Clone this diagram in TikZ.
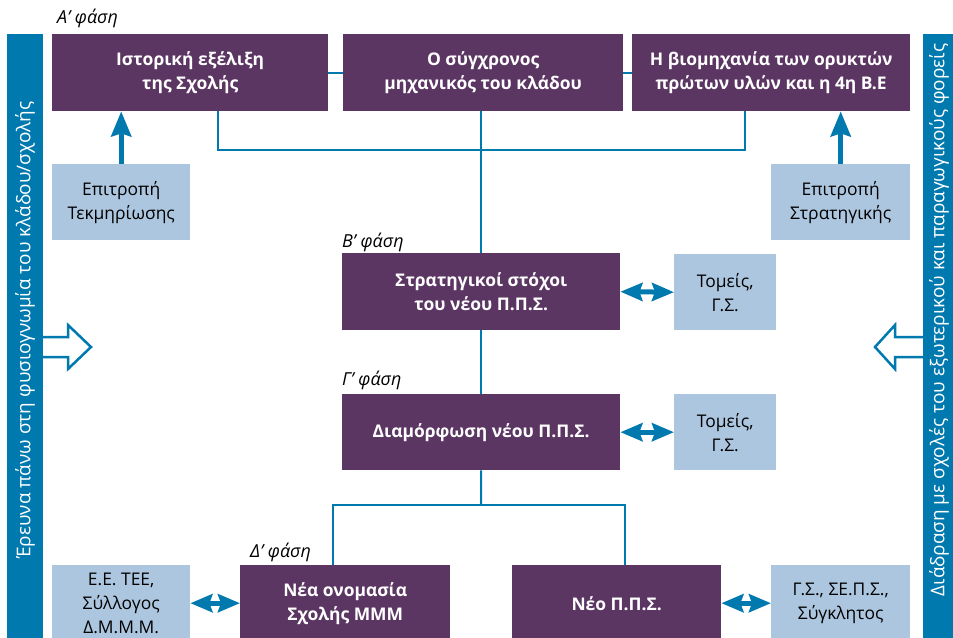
\documentclass[tikz,border=0pt]{standalone}
\usepackage{fontspec}
\setmainfont{Open Sans}
\usetikzlibrary{arrows.meta,calc}
\definecolor{purp}{HTML}{5C3663}
\definecolor{lblue}{HTML}{ADC6DF}
\definecolor{dblue}{HTML}{0079AE}
\begin{document}
\begin{tikzpicture}[x=1bp,y=-1bp,
  pbox/.style={fill=purp,text=white,font=\bfseries\fontsize{17.5}{24}\selectfont,align=center,inner sep=0pt,anchor=north west},
  lbox/.style={fill=lblue,text=black,font=\fontsize{17.5}{24}\selectfont,align=center,inner sep=0pt,anchor=north west},
  phase/.style={font=\itshape\fontsize{18}{20}\selectfont,anchor=base west,inner sep=0pt},
  bartext/.style={text=white,font=\fontsize{19}{22}\selectfont,rotate=90,inner sep=0pt},
  conn/.style={draw=dblue,line width=2bp},
  uparrow/.style={draw=dblue,line width=5bp,-{Stealth[length=25bp,width=20bp,inset=3bp]}},
  dbl/.style={draw=dblue,line width=5bp,{Stealth[length=22bp,width=18bp,inset=3bp]}-{Stealth[length=22bp,width=18bp,inset=3bp]}},
  hollow/.style={draw=dblue,fill=white,line width=2.5bp,line join=miter}
]
\useasboundingbox (0,0) rectangle (953,638);

% hollow side arrows
\draw[hollow] (43,337) -- (68,337) -- (68,325) -- (91,347) -- (68,369) -- (68,357) -- (43,357);
\draw[hollow] (923,337) -- (895,337) -- (895,325) -- (875,347) -- (895,369) -- (895,357) -- (923,357);

% side bars
\node[fill=dblue,minimum width=36bp,minimum height=604bp,inner sep=0pt,anchor=north west] (barL) at (7,34) {};
\node[fill=dblue,minimum width=36bp,minimum height=604bp,inner sep=0pt,anchor=north west] (barR) at (923,34) {};
\node[bartext] (tL) at (25,330) {Έρευνα πάνω στη φυσιογνωμία του κλάδου/σχολής};
\node[bartext] (tR) at (939,320) {Διάδραση με σχολές του εξωτερικού και παραγωγικούς φορείς};

% phase A
\node[phase] (pa) at (57,24) {Α' φάση};
\node[pbox,minimum width=276bp,minimum height=77bp] (A1) at (52,34) {Ιστορική εξέλιξη\\της Σχολής};
\node[pbox,minimum width=280bp,minimum height=77bp] (A2) at (343,34) {Ο σύγχρονος\\μηχανικός του κλάδου};
\node[pbox,minimum width=278bp,minimum height=77bp] (A3) at (632,34) {Η βιομηχανία των ορυκτών\\πρώτων υλών και η 4η Β.Ε};
\node[lbox,minimum width=138bp,minimum height=76bp] (T1) at (52,164) {Επιτροπή\\Τεκμηρίωσης};
\node[lbox,minimum width=139bp,minimum height=76bp] (T2) at (771,164) {Επιτροπή\\Στρατηγικής};

% phase B
\node[phase] (pb) at (342,248) {Β' φάση};
\node[pbox,minimum width=278bp,minimum height=77bp] (B) at (342,253) {Στρατηγικοί στόχοι\\του νέου Π.Π.Σ.};
\node[lbox,minimum width=102bp,minimum height=76bp] (SB) at (674,254) {Τομείς,\\Γ.Σ.};

% phase C
\node[phase] (pc) at (342,385) {Γ' φάση};
\node[pbox,minimum width=278bp,minimum height=76bp] (G) at (342,394) {Διαμόρφωση νέου Π.Π.Σ.};
\node[lbox,minimum width=102bp,minimum height=76bp] (SG) at (674,394) {Τομείς,\\Γ.Σ.};

% phase D
\node[phase] (pd) at (250,557) {Δ' φάση};
\node[pbox,minimum width=210bp,minimum height=76bp] (D1) at (240,565) {Νέα ονομασία\\Σχολής ΜΜΜ};
\node[pbox,minimum width=209bp,minimum height=76bp] (D2) at (512,565) {Νέο Π.Π.Σ.};
\node[lbox,minimum width=138bp,minimum height=76bp] (L) at (52,565) {Ε.Ε. ΤΕΕ,\\Σύλλογος\\Δ.Μ.Μ.Μ.};
\node[lbox,minimum width=139bp,minimum height=76bp] (R) at (771,565) {Γ.Σ., ΣΕ.Π.Σ.,\\Σύγκλητος};

% connectors
\draw[conn] (A1) -- (A2);
\draw[conn] (A2) -- (A3);
\coordinate (j1) at (218,150);
\coordinate (j3) at (745,150);
\draw[conn] (A1.south -| j1) -- (j1) -- (j3) -- (A3.south -| j3);
\draw[conn] (B.north |- A2.south) -- (B.north);
\draw[conn] (B.south) -- (G.north);
\coordinate (jm) at (481,505);
\coordinate (jl) at (333,505);
\coordinate (jr) at (625,505);
\draw[conn] (G.south) -- (jm);
\draw[conn] (D1.north -| jl) -- (jl) -- (jr) -- (D2.north -| jr);

\draw[uparrow] (T1.north) -- (A1.south -| T1.north);
\draw[uparrow] (T2.north) -- (A3.south -| T2.north);

\draw[dbl] (B.east) -- (SB.west);
\draw[dbl] (G.east) -- (SG.west);
\draw[dbl] (L.east) -- (D1.west);
\draw[dbl] (D2.east) -- (R.west);
\end{tikzpicture}
\end{document}
